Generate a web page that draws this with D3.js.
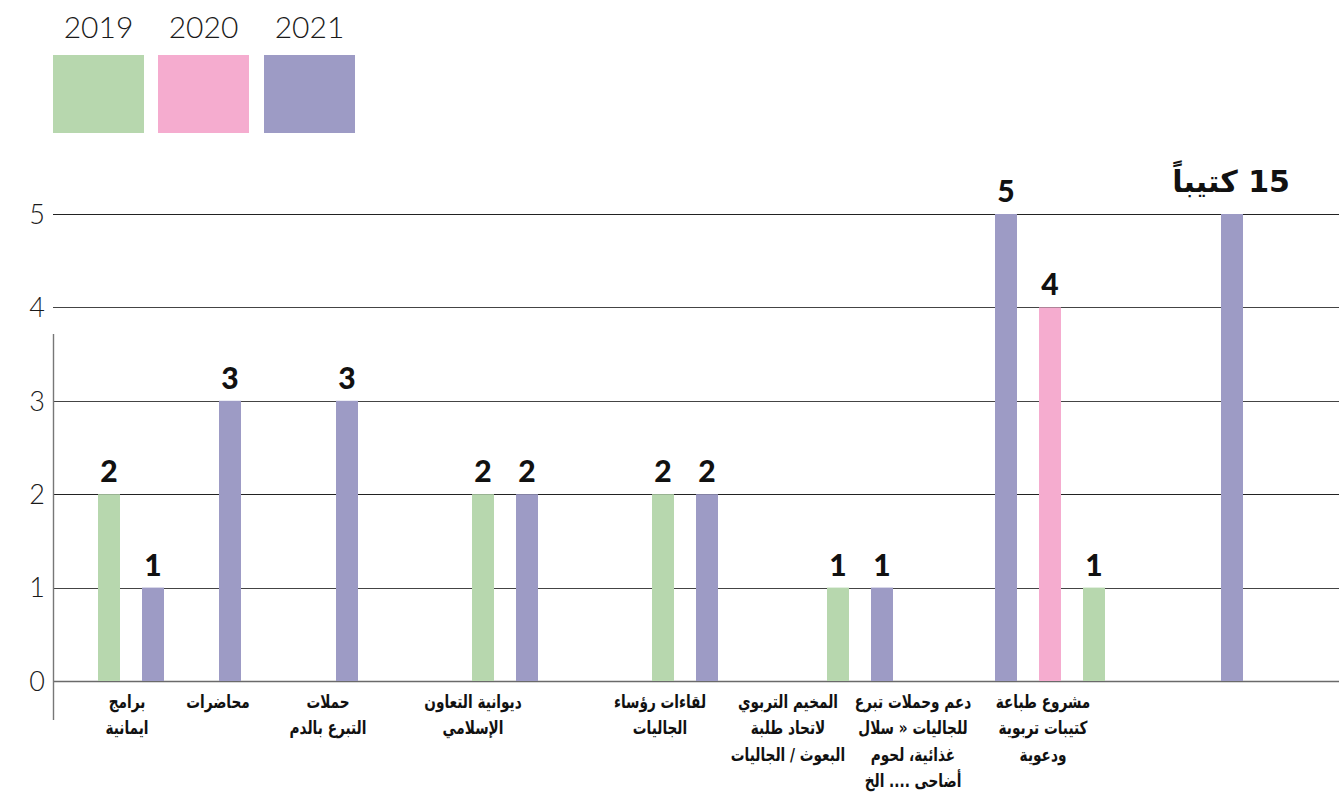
<!DOCTYPE html>
<html>
<head>
<meta charset="utf-8">
<script src="https://cdn.jsdelivr.net/npm/d3@7"></script>
<style>
  html, body { margin: 0; padding: 0; background: #fff; }
  svg { display: block; }
  .ar { font-family: "DejaVu Sans", sans-serif; font-weight: bold; }
  .num { font-family: Lato, "Open Sans", sans-serif; }
</style>
</head>
<body>
<svg id="chart" width="1344" height="794"></svg>
<script>
// ---------- DATA ----------
const categories = [
  "برامج|ايمانية",
  "محاضرات",
  "حملات|التبرع بالدم",
  "ديوانية التعاون|الإسلامي",
  "لقاءات رؤساء|الجاليات",
  "المخيم التربوي|لاتحاد طلبة|البعوث / الجاليات",
  "دعم وحملات تبرع|للجاليات « سلال|غذائية، لحوم|أضاحى .... الخ",
  "مشروع طباعة|كتيبات تربوية|ودعوية"
];
const seriesNames = ["2019", "2020", "2021"];
const values2019 = [2, null, null, 2, 2, 1, 1, null];
const values2020 = [null, null, null, null, null, null, 4, null];
const values2021 = [1, 3, 3, 2, 2, 1, 5, 5];
const yTicks = [0, 1, 2, 3, 4, 5];
const specialLabel = { category: 7, series: "2021", text: "15 كتيباً" };
const reversedGroups = [6]; // series order right-to-left in this group

// ---------- LAYOUT ----------
const colors = d3.scaleOrdinal().domain(seriesNames).range(["#b7d7ae", "#f5accf", "#9d9bc5"]);
const svg = d3.select("#chart");

const y = d3.scaleLinear().domain([0, 5]).range([681, 214]);
const groupX = d3.scaleOrdinal().domain(d3.range(categories.length))
  .range([131, 230, 347, 505, 685, 860, 1050, 1232]);
const labelX = d3.scaleOrdinal().domain(d3.range(categories.length))
  .range([127, 218, 328, 473, 660, 788, 913, 1043]);
const barStep = 44, barW = 22;

const seriesValues = { "2019": values2019, "2020": values2020, "2021": values2021 };

// gridlines
svg.append("g").selectAll("line").data(yTicks).join("line")
  .attr("x1", 53).attr("x2", 1339)
  .attr("y1", d => Math.round(y(d)) + 0.5).attr("y2", d => Math.round(y(d)) + 0.5)
  .attr("stroke", d => d === 0 ? "#6a6a6a" : (d === 5 || d === 2 ? "#222" : "#444"))
  .attr("stroke-width", d => d === 0 ? 1.6 : 1.1);

// vertical axis line
svg.append("line").attr("x1", 53.5).attr("x2", 53.5).attr("y1", 334).attr("y2", 720)
  .attr("stroke", "#777").attr("stroke-width", 1.4);

// tick labels
svg.append("g").selectAll("text").data(yTicks).join("text")
  .attr("class", "num")
  .attr("x", 45).attr("y", d => y(d)).attr("dy", "0.36em")
  .attr("text-anchor", "end").attr("font-size", 27).attr("font-weight", 300)
  .attr("fill", "#1a1a1a").text(d => d);

// bars
const bars = [];
categories.forEach((c, i) => {
  let present = seriesNames.filter(s => seriesValues[s][i] != null);
  if (reversedGroups.includes(i)) present = present.slice().reverse();
  const n = present.length;
  present.forEach((s, k) => {
    bars.push({ i, s, v: seriesValues[s][i], cx: groupX(i) + (k - (n - 1) / 2) * barStep });
  });
});

svg.append("g").selectAll("rect").data(bars).join("rect")
  .attr("x", d => d.cx - barW / 2).attr("width", barW)
  .attr("y", d => y(d.v)).attr("height", d => y(0) - y(d.v))
  .attr("fill", d => colors(d.s));

// value labels
svg.append("g").selectAll("text")
  .data(bars.filter(d => !(d.i === specialLabel.category && d.s === specialLabel.series)))
  .join("text")
  .attr("class", "num")
  .attr("x", d => d.cx).attr("y", d => y(d.v) - 12)
  .attr("text-anchor", "middle").attr("font-size", 30).attr("font-weight", 900)
  .attr("fill", "#111").text(d => d.v);

// special label (rtl: "start" = right edge)
const sp = bars.find(d => d.i === specialLabel.category && d.s === specialLabel.series);
svg.append("text").attr("class", "ar")
  .attr("x", 1290).attr("y", y(sp.v) - 22)
  .attr("direction", "rtl")
  .attr("text-anchor", "start").attr("font-size", 30)
  .attr("fill", "#111")
  .text(specialLabel.text);

// category labels (horizontally condensed to match the narrow original face)
const catG = svg.append("g");
categories.forEach((c, i) => {
  const t = catG.append("text").attr("class", "ar")
    .attr("transform", `translate(${labelX(i)},0) scale(0.76,1)`)
    .attr("x", 0).attr("y", 708)
    .attr("direction", "rtl")
    .attr("text-anchor", "middle").attr("font-size", 18).attr("fill", "#111");
  c.split("|").forEach((line, k) => {
    t.append("tspan").attr("x", 0).attr("y", 708 + k * 26.5).text(line);
  });
});

// legend
const legX = d3.scaleOrdinal().domain(seriesNames).range([53, 158, 264]);
const leg = svg.append("g").selectAll("g").data(seriesNames).join("g");
leg.append("rect").attr("x", d => legX(d)).attr("y", 55).attr("width", 91).attr("height", 78)
  .attr("fill", d => colors(d));
leg.append("text").attr("class", "num")
  .attr("x", d => legX(d) + 45.5).attr("y", 38)
  .attr("text-anchor", "middle").attr("font-size", 30).attr("font-weight", 300)
  .attr("fill", "#1a1a1a").text(d => d);
</script>
</body>
</html>
